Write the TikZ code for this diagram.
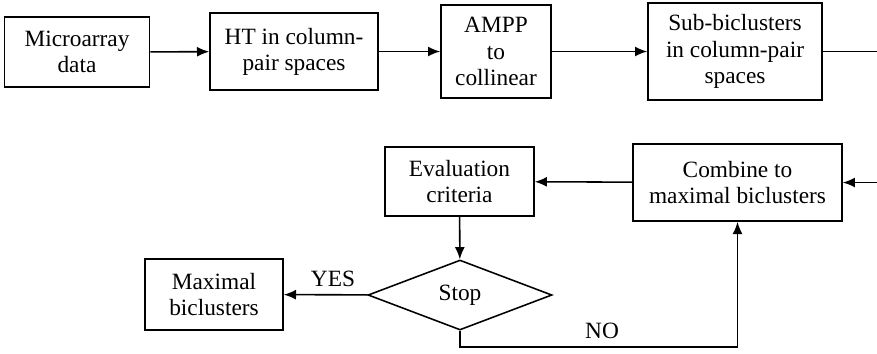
\documentclass[tikz,border=0pt]{standalone}
\usepackage{fontspec}
\setmainfont{Liberation Serif}
\usetikzlibrary{arrows.meta,shapes.geometric}
\begin{document}
\begin{tikzpicture}[
    x=0.45pt, y=-0.45pt,
    every node/.style={font=\fontsize{10.5}{11.8}\selectfont},
    block/.style={rectangle, draw, align=center, inner sep=0pt, line width=0.7pt},
    decision/.style={diamond, draw, inner sep=0pt, aspect=2.6, line width=0.7pt},
    line/.style={draw, line width=0.7pt, -{Latex[length=5.5pt,width=4.5pt]}}
]
    \useasboundingbox (0,0) rectangle (877,353);
    \node [block, minimum width=65.3pt, minimum height=31.5pt] (micro) at (77,52) {Microarray\\data};
    \node [block, minimum width=75.6pt, minimum height=34.7pt] (ht) at (294,51.5) {HT in column-\\pair spaces};
    \node [block, minimum width=49.5pt, minimum height=41.9pt] (ampp) at (496,51.5) {AMPP\\to\\collinear};
    \node [block, minimum width=78.3pt, minimum height=43.7pt] (sub) at (735,51.5) {Sub-biclusters\\in column-pair\\spaces};
    \node [block, minimum width=94pt, minimum height=34.7pt] (comb) at (737.5,182.5) {Combine to\\maximal biclusters};
    \node [block, minimum width=67pt, minimum height=31pt] (eval) at (459.5,181.5) {Evaluation\\criteria};
    \node [decision, minimum width=82.8pt, minimum height=31.5pt] (stop) at (460,295) {Stop};
    \node [block, minimum width=62.1pt, minimum height=32pt] (maxb) at (214,294.5) {Maximal\\biclusters};
    \node (yes) at (333,279) {YES};
    \node (no) at (602,331) {NO};
    \coordinate (outtop) at (877,51.5);
    \coordinate (inbot) at (877,182.5);
    \coordinate (noturn) at (460,347);

    \draw [line] (micro) -- (ht);
    \draw [line] (ht) -- (ampp);
    \draw [line] (ampp) -- (sub);
    \draw [line width=0.7pt] (sub) -- (outtop);
    \draw [line] (inbot) -- (comb);
    \draw [line] (comb) -- (eval);
    \draw [line] (eval) -- (stop);
    \draw [line] (stop) -- (maxb);
    \draw [line] (stop.south) -- (noturn) -| (comb.south);
\end{tikzpicture}
\end{document}
